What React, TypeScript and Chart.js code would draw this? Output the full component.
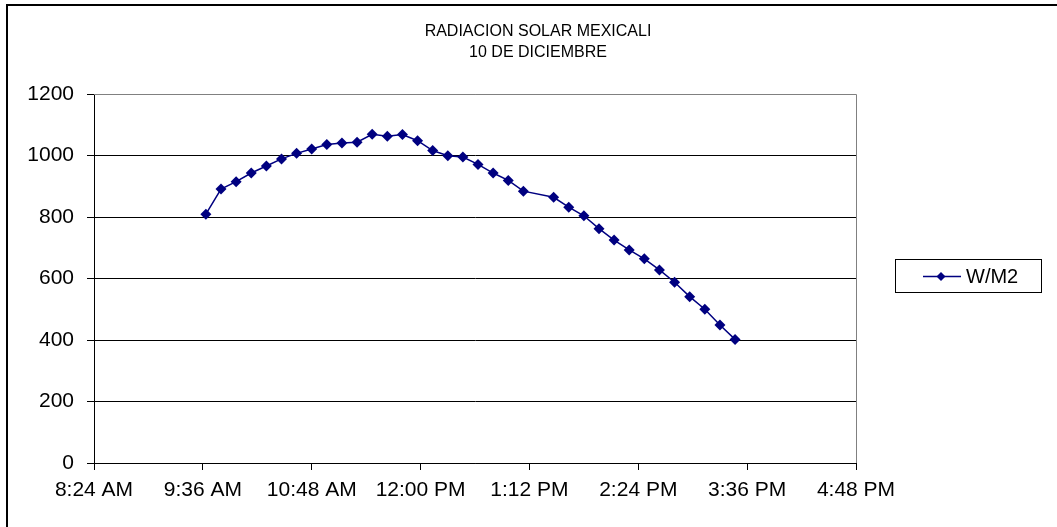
import React, { useEffect, useRef } from "react";
import { Chart, registerables } from "chart.js";

Chart.register(...registerables);

const TITLE_LINES = ["RADIACION SOLAR MEXICALI", "10 DE DICIEMBRE"];
const SERIES_NAME = "W/M2";

const TIMES = [
  "9:38", "9:48", "9:58", "10:08", "10:18", "10:28", "10:38", "10:48", "10:58", "11:08",
  "11:18", "11:28", "11:38", "11:48", "11:58", "12:08", "12:18", "12:28", "12:38", "12:48",
  "12:58", "13:08", "13:28", "13:38", "13:48", "13:58", "14:08", "14:18", "14:28", "14:38",
  "14:48", "14:58", "15:08", "15:18", "15:28",
];

const VALUES = [
  809, 891, 915, 943, 966, 989, 1007, 1021, 1036, 1041,
  1043, 1069, 1063, 1068, 1048, 1016, 999, 995, 971, 943,
  919, 884, 864, 832, 804, 762, 725, 693, 664, 628,
  588, 541, 500, 449, 402,
];

const X_MIN = 504; // 8:24 AM in minutes
const X_MAX = 1008; // 4:48 PM
const X_STEP = 72;
const Y_MIN = 0;
const Y_MAX = 1200;
const Y_STEP = 200;

const FONT = "'Liberation Sans', Arial, sans-serif";
const NAVY = "#000080";

function toMinutes(t: string): number {
  const [h, m] = t.split(":").map(Number);
  return h * 60 + m;
}

function formatTime(min: number): string {
  const h24 = Math.floor(min / 60);
  const m = Math.round(min - h24 * 60);
  const ampm = h24 >= 12 ? "PM" : "AM";
  let h = h24 % 12;
  if (h === 0) h = 12;
  return `${h}:${m.toString().padStart(2, "0")} ${ampm}`;
}

const decorPlugin = {
  id: "decor",
  afterDraw(chart: any) {
    const ctx = chart.ctx as CanvasRenderingContext2D;
    const area = chart.chartArea;
    ctx.save();
    // plot area top/right border (gray)
    ctx.strokeStyle = "#808080";
    ctx.lineWidth = 1;
    ctx.beginPath();
    ctx.moveTo(area.left, Math.round(area.top) + 0.5);
    ctx.lineTo(Math.round(area.right) + 0.5, Math.round(area.top) + 0.5);
    ctx.lineTo(Math.round(area.right) + 0.5, area.bottom);
    ctx.stroke();

    // outer chart border
    ctx.strokeStyle = "#000000";
    ctx.lineWidth = 2;
    ctx.strokeRect(7, 5, 1100, 600);

    // title
    ctx.fillStyle = "#000000";
    ctx.font = `16px ${FONT}`;
    ctx.textAlign = "center";
    ctx.textBaseline = "middle";
    ctx.fillText(TITLE_LINES[0], 538, 32);
    ctx.fillText(TITLE_LINES[1], 538, 53);

    // legend
    const ds = chart.data.datasets[0];
    ctx.lineWidth = 1;
    ctx.strokeStyle = "#000000";
    ctx.strokeRect(895.5, 259.5, 146, 33);
    const ly = 276.5;
    ctx.strokeStyle = ds.borderColor;
    ctx.lineWidth = 1.5;
    ctx.beginPath();
    ctx.moveTo(923, ly);
    ctx.lineTo(961, ly);
    ctx.stroke();
    ctx.fillStyle = ds.pointBackgroundColor;
    ctx.beginPath();
    ctx.moveTo(941, ly - 4.5);
    ctx.lineTo(945.5, ly);
    ctx.lineTo(941, ly + 4.5);
    ctx.lineTo(936.5, ly);
    ctx.closePath();
    ctx.fill();
    ctx.fillStyle = "#000000";
    ctx.font = `20px ${FONT}`;
    ctx.textAlign = "left";
    ctx.textBaseline = "middle";
    ctx.fillText(ds.label, 966, ly + 1);
    ctx.restore();
  },
};

export default function App() {
  const canvasRef = useRef<HTMLCanvasElement | null>(null);

  useEffect(() => {
    if (!canvasRef.current) return;
    const points = TIMES.map((t, i) => ({ x: toMinutes(t), y: VALUES[i] }));
    const chart = new Chart(canvasRef.current, {
      type: "line",
      data: {
        datasets: [
          {
            label: SERIES_NAME,
            data: points,
            borderColor: NAVY,
            backgroundColor: NAVY,
            pointBackgroundColor: NAVY,
            pointBorderColor: NAVY,
            borderWidth: 1.5,
            pointStyle: "rectRot",
            pointRadius: 5.5,
            pointBorderWidth: 0,
            tension: 0,
            fill: false,
          },
        ],
      },
      options: {
        animation: false,
        responsive: false,
        maintainAspectRatio: false,
        layout: { padding: { top: 94, left: 0, right: 201, bottom: 0 } },
        plugins: {
          legend: { display: false },
          title: { display: false },
          tooltip: { enabled: false },
        },
        scales: {
          x: {
            type: "linear",
            min: X_MIN,
            max: X_MAX,
            afterFit(scale: any) {
              scale.height = 64;
            },
            afterBuildTicks(scale: any) {
              const ticks = [];
              for (let v = X_MIN; v <= X_MAX; v += X_STEP) ticks.push({ value: v });
              scale.ticks = ticks;
            },
            border: { display: true, color: "#000000", width: 1 },
            grid: {
              display: true,
              drawOnChartArea: false,
              drawTicks: true,
              tickLength: 7,
              tickColor: "#000000",
              color: "#000000",
            },
            ticks: {
              color: "#000000",
              font: { family: FONT, size: 21 },
              padding: 8,
              maxRotation: 0,
              autoSkip: false,
              callback: (v: any) => formatTime(Number(v)),
            },
          },
          y: {
            min: Y_MIN,
            max: Y_MAX,
            afterFit(scale: any) {
              scale.width = 94;
            },
            border: { display: true, color: "#000000", width: 1 },
            grid: {
              display: true,
              drawTicks: true,
              tickLength: 7,
              tickColor: "#000000",
              color: (c: any) => (c.tick && c.tick.value === Y_MAX ? "#808080" : "#000000"),
            },
            ticks: {
              stepSize: Y_STEP,
              color: "#000000",
              font: { family: FONT, size: 21 },
              padding: 13,
              callback: (v: any) => String(v),
            },
          },
        },
      },
      plugins: [decorPlugin],
    });
    return () => chart.destroy();
  }, []);

  return (
    <div
      style={{
        position: "fixed",
        left: 0,
        top: 0,
        width: 1057,
        height: 527,
        overflow: "hidden",
        background: "#ffffff",
      }}
    >
      <canvas ref={canvasRef} width={1057} height={527} style={{ display: "block" }} />
    </div>
  );
}
